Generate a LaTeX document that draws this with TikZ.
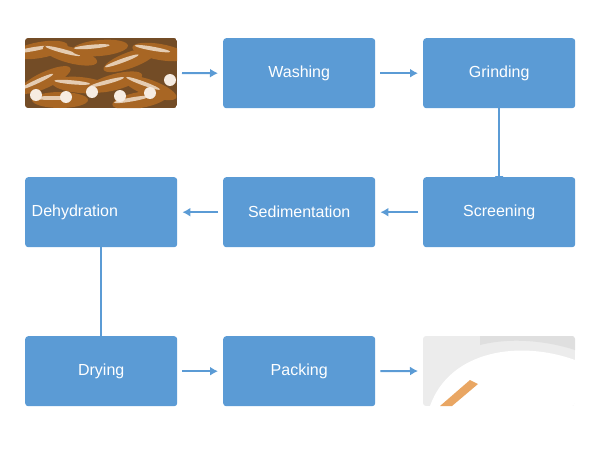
\documentclass[tikz,border=0pt]{standalone}
\usepackage{fontspec}
\setmainfont{Liberation Sans}
\usetikzlibrary{arrows.meta}
\begin{document}
\begin{tikzpicture}[x=1pt,y=-1pt,
  box/.style={draw=none,fill=boxblue,rounded corners=3pt,minimum width=152pt,minimum height=70pt,text=white,font=\fontsize{16}{18}\selectfont,anchor=north west,inner sep=0pt},
  arr/.style={draw=arrblue,line width=2pt,-{Latex[length=8pt,width=9pt]}}]
\definecolor{boxblue}{HTML}{5B9BD5}
\definecolor{arrblue}{HTML}{5B9BD5}
\useasboundingbox (0,0) rectangle (600,450);
% cassava photo
\begin{scope}
\clip[rounded corners=3pt] (25,38) rectangle (177,108);
\fill[brown!60!black] (25,38) rectangle (177,108);
\foreach \x/\y/\a in {40/50/10,70/55/-15,100/48/5,130/60/20,160/52/-10,45/80/25,80/85/-5,115/82/15,150/88/-20,60/100/0,140/100/10}{
  \fill[brown!70!orange!80!black,rotate around={\a:(\x,\y)}] (\x,\y) ellipse (28 and 8);
  \fill[brown!40!white,rotate around={\a:(\x,\y)}] (\x-8,\y-2) ellipse (18 and 2);}
\foreach \x/\y in {36/95,66/97,92/92,120/96,150/93,170/80}{
  \fill[white!85!brown] (\x,\y) circle (6);}
\end{scope}
% starch photo
\begin{scope}
\clip[rounded corners=3pt] (423,336) rectangle (575,406);
\fill[gray!15] (423,336) rectangle (575,406);
\fill[white] (430,406) .. controls (450,350) and (520,340) .. (575,360) -- (575,406) -- cycle;
\fill[brown!50!orange!70] (440,406) -- (470,380) -- (478,384) -- (452,406) -- cycle;
\fill[gray!25] (480,345) .. controls (520,335) and (560,345) .. (575,350) -- (575,336) -- (480,336) -- cycle;
\end{scope}
\node[box] (wash) at (223,38) {Washing};
\node[box] (grind) at (423,38) {Grinding};
\node[box] (screen) at (423,177) {Screening};
\node[box] (sed) at (223,177) {Sedimentation};
\node[box,align=left,text width=145pt] (dehy) at (25,177) {\hspace*{3pt}Dehydration};
\node[box] (dry) at (25,336) {Drying};
\node[box] (pack) at (223,336) {Packing};
\coordinate (cas) at (177,73);
\coordinate (st) at (423,371);
\draw[arr] ([xshift=5pt]cas) -- ([xshift=-5pt]wash.west);
\draw[arr] ([xshift=5pt]wash.east) -- ([xshift=-5pt]grind.west);
\draw[arr] ([yshift=5pt]grind.south) -- ([yshift=-7pt]screen.north);
\draw[arr] ([xshift=-5pt]screen.west) -- ([xshift=5pt]sed.east);
\draw[arr] ([xshift=-5pt]sed.west) -- ([xshift=5pt]dehy.east);
\draw[arr] ([yshift=12pt]dehy.south) -- ([yshift=-22pt]dry.north);
\draw[arr] ([xshift=5pt]dry.east) -- ([xshift=-5pt]pack.west);
\draw[arr] ([xshift=5pt]pack.east) -- ([xshift=-5pt]st);
\end{tikzpicture}
\end{document}
